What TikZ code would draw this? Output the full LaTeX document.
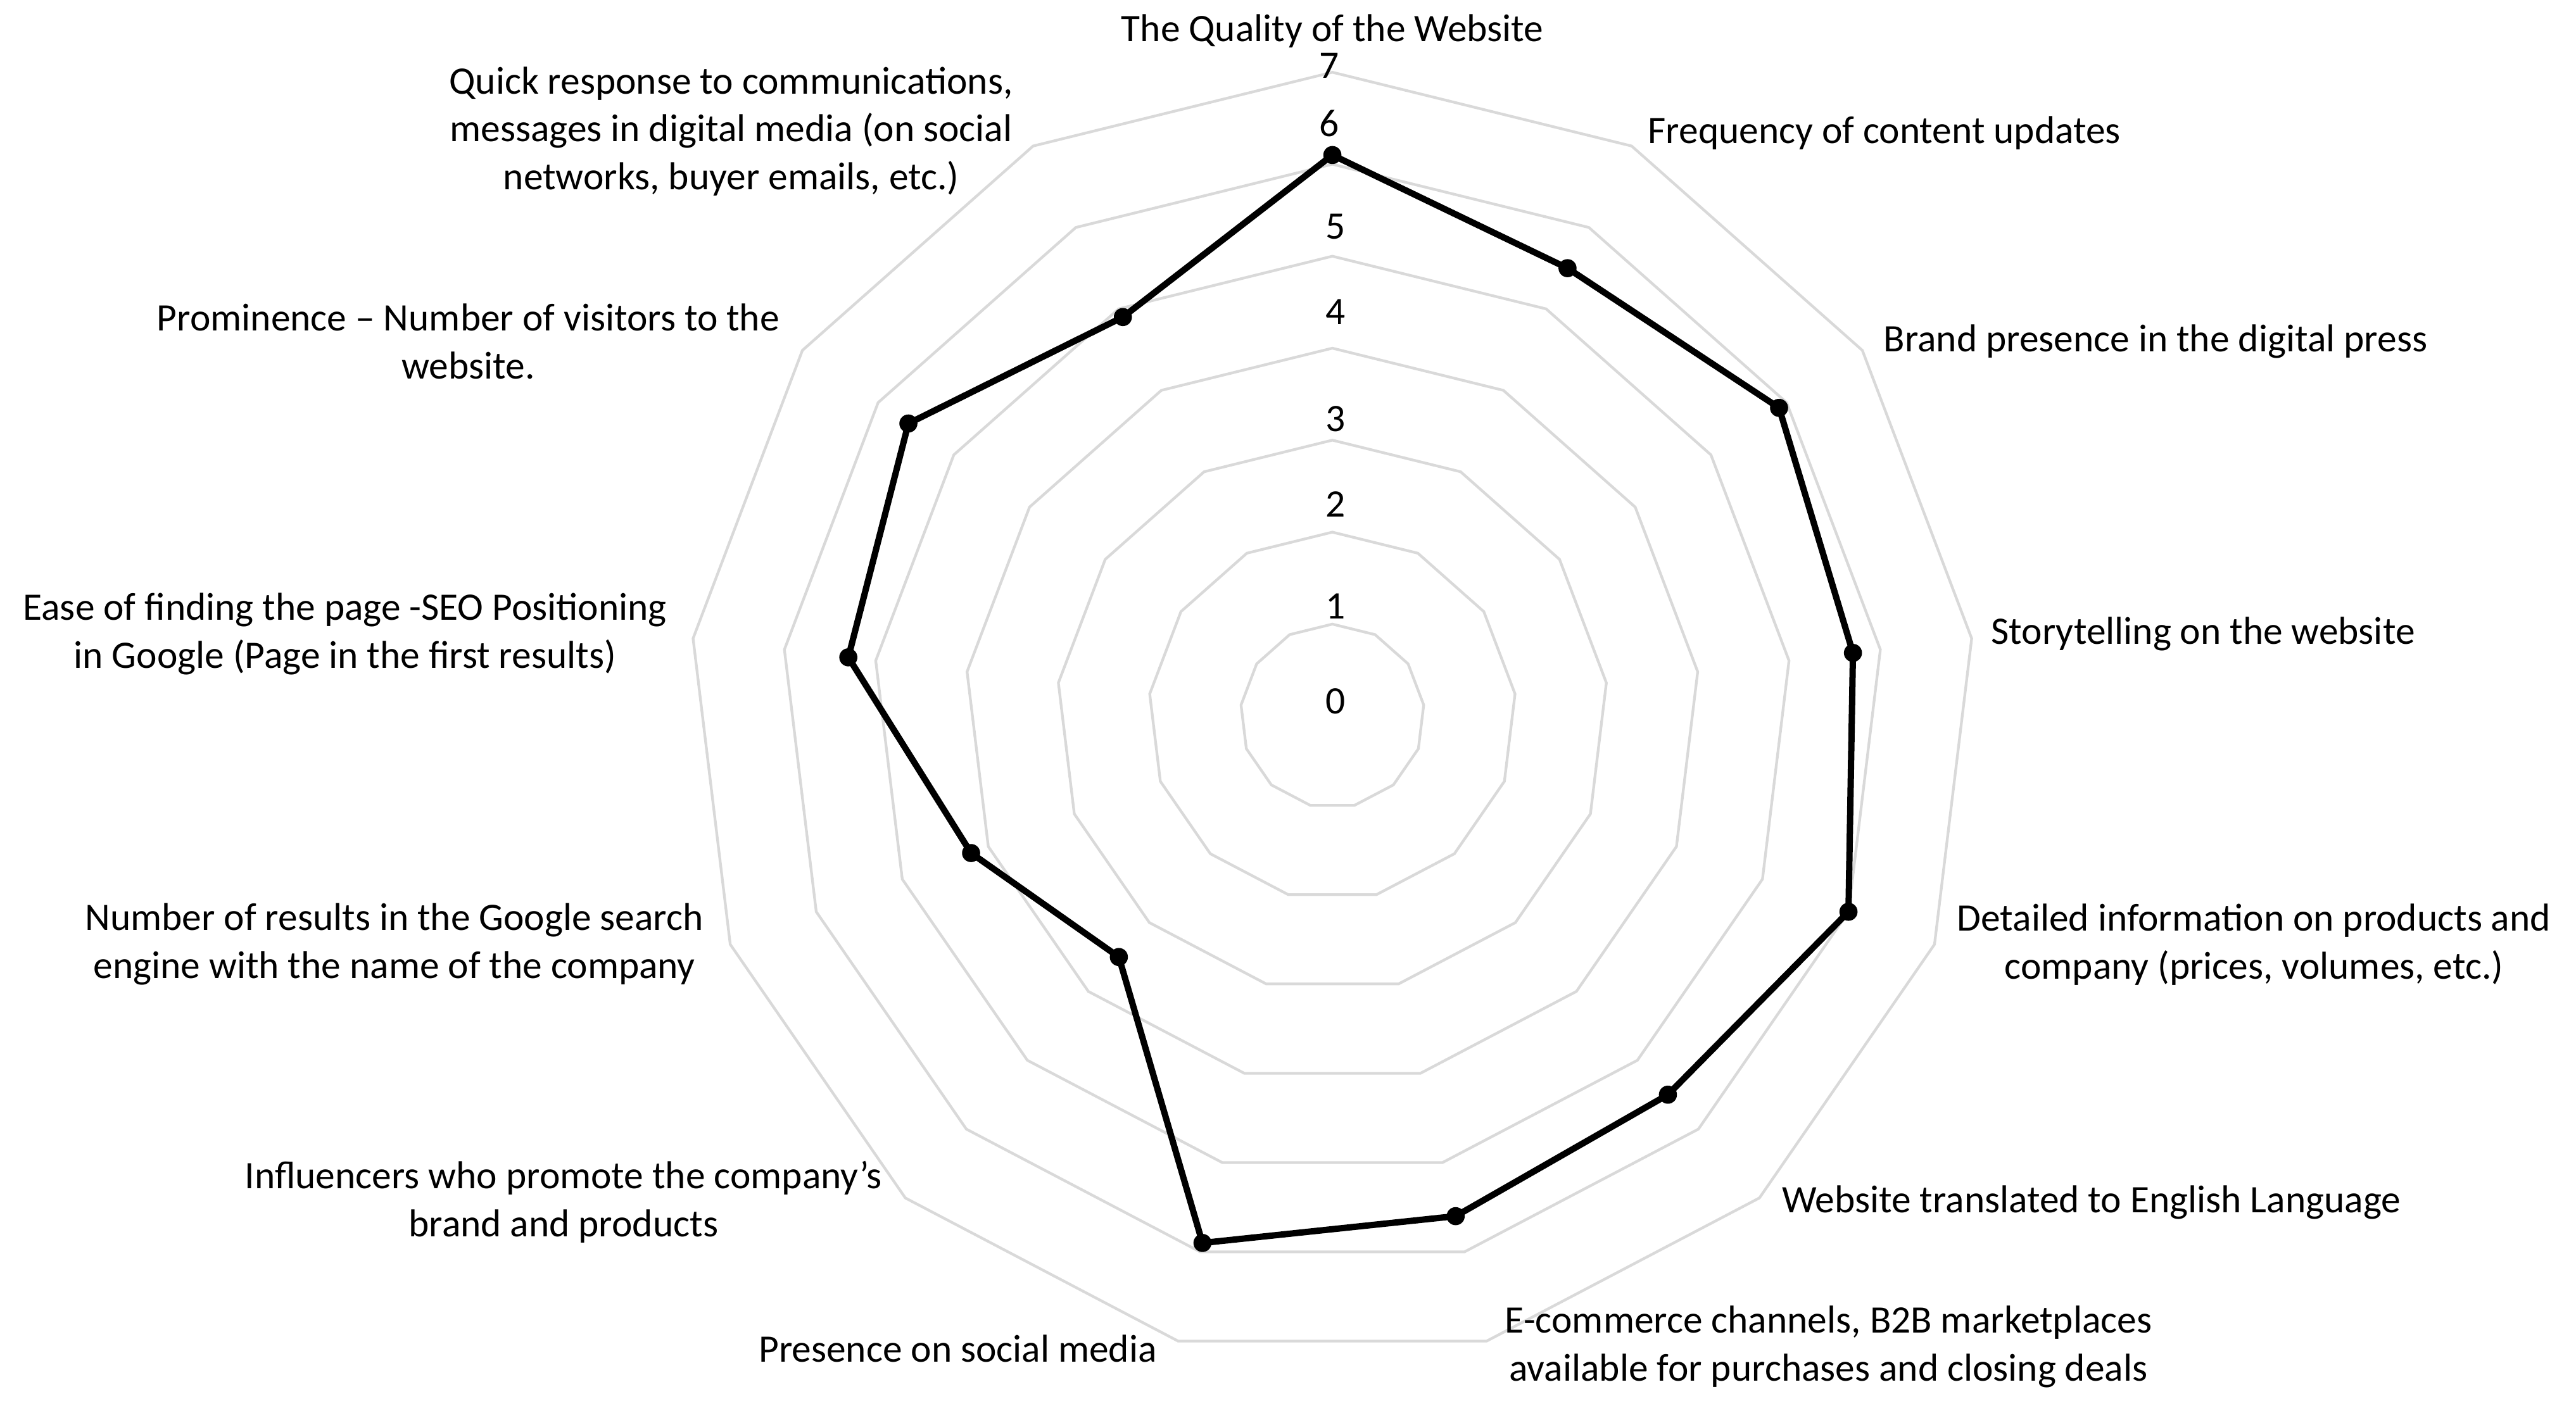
\documentclass[tikz,border=0pt]{standalone}
\usepackage{fontspec}
\setmainfont{Carlito}
\begin{document}
\begin{tikzpicture}[x=0.012755cm, y=-0.012755cm,
    grid/.style={draw=black!15, line width=0.6pt},
    series/.style={draw=black, line width=1.4pt, line join=round},
    dot/.style={circle, fill=black, inner sep=0pt, minimum size=4pt},
    lbl/.style={font=\fontsize{8.6}{10.6}\selectfont, align=center, inner sep=0pt},
    tick/.style={font=\fontsize{8.6}{10.6}\selectfont, inner sep=0pt}]
  \useasboundingbox (0,0) rectangle (1568,856);

  % Grid rings
  \begin{scope}[shift={(811,436)}]
    \foreach \r in {1,...,7} {
      \draw[grid] (-90:\r*56) \foreach \k in {1,...,12} { -- ({-90+\k*360/13}:\r*56) } -- cycle;
    }
    % Data points
    \foreach \v [count=\k from 0] in {6.1,5.5,5.9,5.7,6.0,5.5,5.6,5.9,3.5,4.2,5.3,5.6,4.9} {
      \coordinate (p\k) at ({-90+\k*360/13}:\v*56);
    }
    \draw[series] (p0) \foreach \k in {1,...,12} { -- (p\k) } -- cycle;
    \foreach \k in {0,...,12} { \node[dot] at (p\k) {}; }
  \end{scope}

  % Scale
  \node[tick] (t0) at (813,427) {0};
  \node[tick] (t1) at (813,369) {1};
  \node[tick] (t2) at (813,307) {2};
  \node[tick] (t3) at (813,255) {3};
  \node[tick] (t4) at (813,190) {4};
  \node[tick] (t5) at (813,138) {5};
  \node[tick] (t6) at (809,75) {6};
  \node[tick] (t7) at (809,40) {7};

  % Axis labels
  \node[lbl] (quality) at (811,19) {The Quality of the Website};
  \node[lbl] (frequency) at (1147,81) {Frequency of content updates};
  \node[lbl] (press) at (1312,208) {Brand presence in the digital press};
  \node[lbl] (story) at (1341,386) {Storytelling on the website};
  \node[lbl] (info) at (1372,575) {Detailed information on products and\\company (prices, volumes, etc.)};
  \node[lbl] (english) at (1273,732) {Website translated to English Language};
  \node[lbl] (ecommerce) at (1113,820) {E-commerce channels, B2B marketplaces\\available for purchases and closing deals};
  \node[lbl] (social) at (583,821) {Presence on social media};
  \node[lbl] (influencers) at (343,732) {Influencers who promote the company's\\brand and products};
  \node[lbl] (results) at (240,575) {Number of results in the Google search\\engine with the name of the company};
  \node[lbl] (seo) at (210,386) {Ease of finding the page -SEO Positioning\\in Google (Page in the first results)};
  \node[lbl] (prominence) at (285,208) {Prominence -- Number of visitors to the\\website.};
  \node[lbl] (response) at (445,80) {Quick response to communications,\\messages in digital media (on social\\networks, buyer emails, etc.)};
\end{tikzpicture}
\end{document}
